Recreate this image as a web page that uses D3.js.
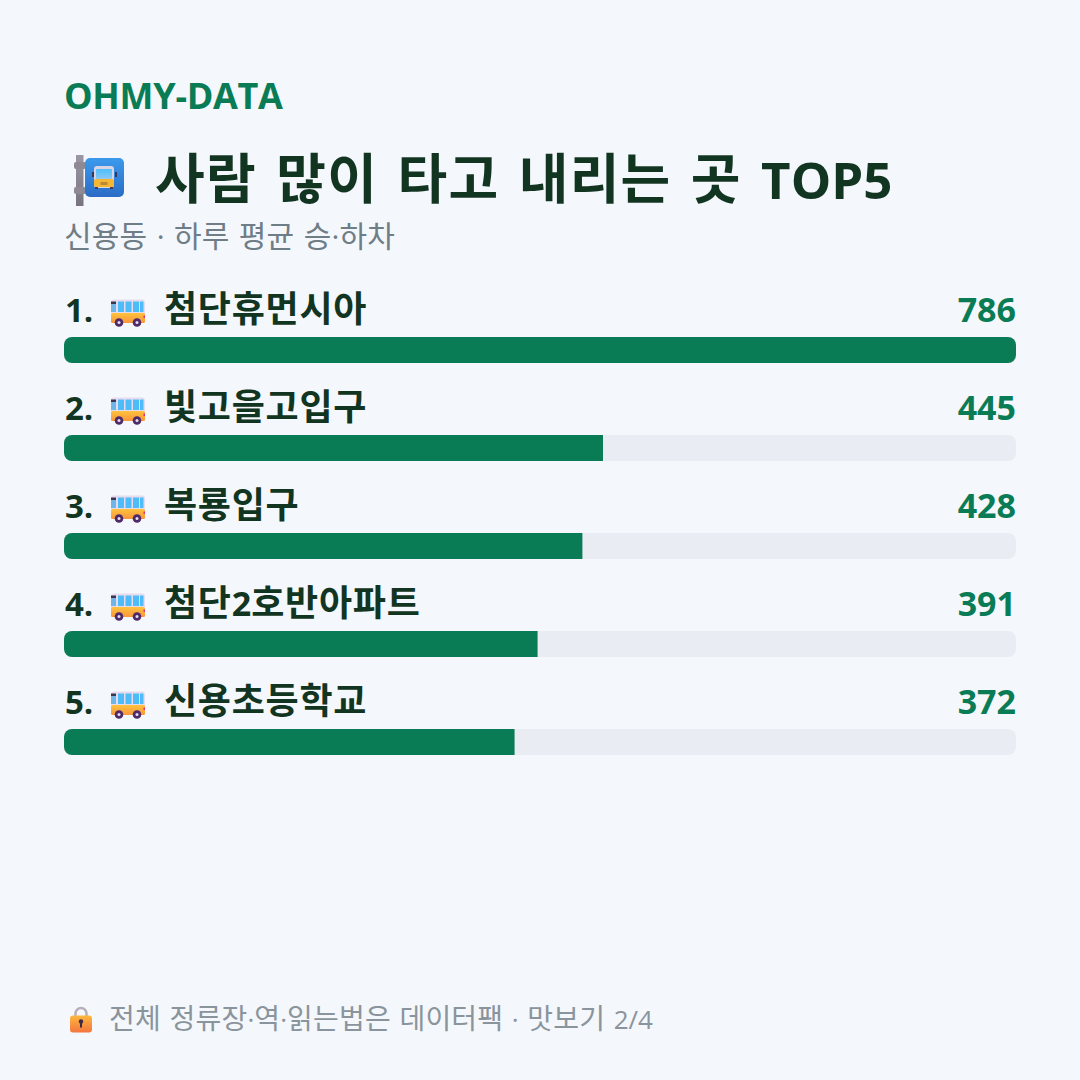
<!DOCTYPE html>
<html lang="ko">
<head>
<meta charset="utf-8">
<script src="https://cdn.jsdelivr.net/npm/d3@7"></script>
<style>
  html, body { margin: 0; padding: 0; background: #f4f7fb; }
  svg { display: block; }
  text { font-family: "Open Sans", "Noto Sans CJK KR", sans-serif; }
  .ko { font-family: "Noto Sans CJK KR", sans-serif; }
</style>
</head>
<body>
<svg id="chart" width="1080" height="1080"></svg>
<script>
const ranks = ["1.", "2.", "3.", "4.", "5."];
const stops = ["첨단휴먼시아", "빛고을고입구", "복룡입구", "첨단2호반아파트", "신용초등학교"];
const riders = [786, 445, 428, 391, 372];

const svg = d3.select("#chart");
const defs = svg.append("defs");
const GREEN = "#0a7c55", INK = "#123522", TRACK = "#e9edf3";
const LEFT = 64, WIDTH = 952, ROW_TOP = 288, ROW_STEP = 98, BAR_Y = 49, BAR_H = 26, BAR_R = 8;

const x = d3.scaleLinear().domain([0, d3.max(riders)]).range([0, WIDTH]);

// Writes a string so Hangul runs and Latin runs can carry their own size and tracking
function mixedText(sel, str, koSize, latinSize, tracking) {
  const runs = str.match(/[\uAC00-\uD7A3]+|[^\uAC00-\uD7A3]+/g);
  sel.selectAll("tspan").data(runs).join("tspan")
    .attr("class", r => /[\uAC00-\uD7A3]/.test(r) ? "ko" : null)
    .attr("font-size", r => /[\uAC00-\uD7A3]/.test(r) ? koSize : latinSize)
    .attr("letter-spacing", r => /[\uAC00-\uD7A3]/.test(r) ? tracking : 0)
    .text(r => r);
}

function gradient(id, top, bottom) {
  const g = defs.append("linearGradient").attr("id", id)
    .attr("x1", 0).attr("x2", 0).attr("y1", 0).attr("y2", 1);
  g.append("stop").attr("offset", 0).attr("stop-color", top);
  g.append("stop").attr("offset", 1).attr("stop-color", bottom);
}
gradient("signFill", "#3b9aec", "#2a6cc6");
gradient("glassFill", "#4cc0fb", "#8cc8f4");
gradient("bodyFill", "#ffc23d", "#f9953c");
gradient("lockFill", "#fcb83e", "#f4763f");
gradient("poleFill", "#9b97a4", "#77737f");

svg.append("text").attr("x", LEFT).attr("y", 109)
  .attr("font-size", 36).attr("font-weight", 700).attr("letter-spacing", -0.3).attr("fill", GREEN).text("OHMY-DATA");

svg.append("text").attr("x", 155).attr("y", 199)
  .attr("font-weight", 700).attr("fill", INK).attr("word-spacing", 6)
  .call(mixedText, "사람 많이 타고 내리는 곳 TOP5", 54, 51, 1.3);

svg.append("text").attr("x", LEFT).attr("y", 247).attr("fill", "#6f7d86").attr("word-spacing", 1.5)
  .call(mixedText, "신용동 · 하루 평균 승·하차", 30, 30, 0.2);

// Bus-stop sign beside the headline
const sign = svg.append("g").attr("transform", "translate(74,155)");
sign.append("rect").attr("x", 2).attr("width", 7.5).attr("height", 51).attr("fill", "url(#poleFill)");
[7, 32].forEach(cy => sign.append("rect").attr("y", cy).attr("width", 12).attr("height", 7).attr("rx", 2).attr("fill", "#8d8995"));
sign.append("rect").attr("x", 11).attr("y", 3).attr("width", 39).attr("height", 39).attr("rx", 5).attr("fill", "url(#signFill)");
[18, 41].forEach(mx => sign.append("rect").attr("x", mx).attr("y", 17).attr("width", 2).attr("height", 5).attr("fill", "#3a3550"));
sign.append("rect").attr("x", 20).attr("y", 11).attr("width", 20).attr("height", 22).attr("rx", 3).attr("fill", "#d9d3e6");
sign.append("rect").attr("x", 22).attr("y", 14).attr("width", 16).attr("height", 10).attr("rx", 1).attr("fill", "url(#glassFill)");
sign.append("rect").attr("x", 20).attr("y", 24).attr("width", 20).attr("height", 8).attr("rx", 2).attr("fill", "#f4b733");
sign.append("rect").attr("x", 26.5).attr("y", 27).attr("width", 7).attr("height", 3).attr("fill", "#b98a3a");
[21, 36].forEach(wx => sign.append("rect").attr("x", wx).attr("y", 32).attr("width", 3).attr("height", 2).attr("fill", "#4d3a55"));

// Small bus used on every row
function drawBus(g) {
  g.append("rect").attr("x", 0).attr("y", 0.5).attr("width", 34).attr("height", 23).attr("rx", 3).attr("fill", "#e6dcee");
  g.append("rect").attr("x", 0).attr("y", 14).attr("width", 34).attr("height", 10).attr("rx", 1.5).attr("fill", "url(#bodyFill)");
  [7, 14.5, 22].forEach(wx => g.append("rect").attr("x", wx).attr("y", 2.5).attr("width", 6).attr("height", 10.5).attr("fill", "#4fbcfa"));
  g.append("rect").attr("x", 29).attr("y", 2.5).attr("width", 3.5).attr("height", 10.5).attr("fill", "#4fbcfa");
  g.append("rect").attr("x", 0).attr("y", 5).attr("width", 5).attr("height", 8).attr("fill", "#6fb6e6");
  g.append("rect").attr("x", 0).attr("y", 2.5).attr("width", 5).attr("height", 2.5).attr("fill", "#3a3550");
  g.append("rect").attr("x", 32.5).attr("y", 16.5).attr("width", 1.5).attr("height", 2.5).attr("fill", "#d8357a");
  [8, 26].forEach(cx => g.append("circle").attr("cx", cx).attr("cy", 23.5).attr("r", 4.3).attr("fill", "#4d2a68"));
  [8, 26].forEach(cx => g.append("circle").attr("cx", cx).attr("cy", 23.5).attr("r", 1.5).attr("fill", "#e6dcee"));
}

const row = svg.selectAll("g.row").data(stops).join("g")
  .attr("class", "row")
  .attr("transform", (d, i) => `translate(${LEFT},${ROW_TOP + i * ROW_STEP})`);

row.append("text").attr("x", 1).attr("y", 34)
  .attr("font-size", 33).attr("font-weight", 700).attr("fill", INK)
  .text((d, i) => ranks[i]);
row.append("g").attr("transform", "translate(47,11)").each(function () { drawBus(d3.select(this)); });
row.append("text").attr("x", 100).attr("y", 34)
  .attr("font-weight", 700).attr("fill", INK)
  .each(function (d) { d3.select(this).call(mixedText, d, 36, 34, 0.75); });
row.append("text").attr("x", WIDTH).attr("y", 34).attr("text-anchor", "end")
  .attr("font-size", 34).attr("font-weight", 700).attr("fill", GREEN)
  .text((d, i) => riders[i]);

// Track clips the fill, so only a full-length bar shows rounded right corners
row.append("clipPath").attr("id", (d, i) => `track${i}`)
  .append("rect").attr("y", BAR_Y).attr("width", WIDTH).attr("height", BAR_H).attr("rx", BAR_R);
row.append("rect").attr("y", BAR_Y).attr("width", WIDTH).attr("height", BAR_H).attr("rx", BAR_R).attr("fill", TRACK);
row.append("rect").attr("y", BAR_Y).attr("width", (d, i) => x(riders[i])).attr("height", BAR_H)
  .attr("clip-path", (d, i) => `url(#track${i})`).attr("fill", GREEN);

// Padlock in front of the footer line
const lock = svg.append("g").attr("transform", "translate(70,1006)");
lock.append("path").attr("d", "M5.5 11V7.5a5.5 5.5 0 0 1 11 0V11").attr("fill", "none").attr("stroke", "#b9aebd").attr("stroke-width", 2.5);
lock.append("rect").attr("y", 9.5).attr("width", 22).attr("height", 17).attr("rx", 3).attr("fill", "url(#lockFill)");
lock.append("circle").attr("cx", 11).attr("cy", 15.5).attr("r", 2.2).attr("fill", "#3b2a48");
lock.append("rect").attr("x", 10).attr("y", 15.5).attr("width", 2).attr("height", 6).attr("fill", "#3b2a48");

svg.append("text").attr("x", 109).attr("y", 1029).attr("fill", "#8a949c").attr("word-spacing", 1.8)
  .call(mixedText, "전체 정류장·역·읽는법은 데이터팩 · 맛보기 2/4", 28, 26, 0.2);
</script>
</body>
</html>
